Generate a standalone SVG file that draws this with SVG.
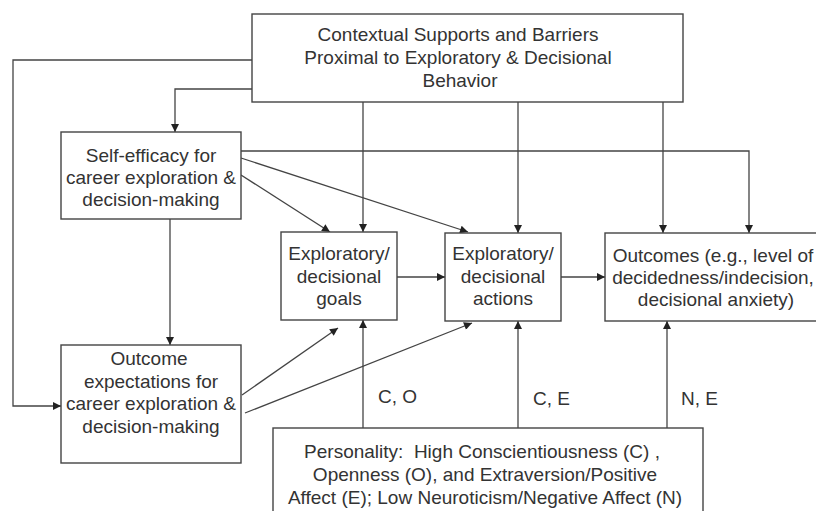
<svg xmlns="http://www.w3.org/2000/svg" width="816" height="511" viewBox="0 0 816 511">
<style>
.box{fill:#fff;stroke:#444;stroke-width:1.4}
.ln{fill:none;stroke:#444;stroke-width:1.3;marker-end:url(#ah)}
text{font-family:"Liberation Sans",Arial,sans-serif;font-size:19px;fill:#333;text-anchor:middle}
.lbl{text-anchor:start}
</style>
<defs>
<marker id="ah" viewBox="0 0 10 10" refX="10" refY="5" markerWidth="9" markerHeight="8" markerUnits="userSpaceOnUse" orient="auto">
<path d="M0,0 L10,5 L0,10 z" fill="#222"/>
</marker>
</defs>
<rect width="816" height="511" fill="#fff"/>
<g id="connectors">
<path class="ln" d="M252,60 H13 V406 H61"/>
<path class="ln" d="M252,89 H175 V132"/>
<path class="ln" d="M363,102 V232"/>
<path class="ln" d="M518,102 V233"/>
<path class="ln" d="M663,102 V233"/>
<path class="ln" d="M241,151 H749 V233"/>
<path class="ln" d="M241,175 L330,232"/>
<path class="ln" d="M241,158 L468,232"/>
<path class="ln" d="M170,219 V345"/>
<path class="ln" d="M242,395 L338,328"/>
<path class="ln" d="M245,413 L472,323"/>
<path class="ln" d="M397,277 H445"/>
<path class="ln" d="M561,277 H605"/>
<path class="ln" d="M363,428 V320"/>
<path class="ln" d="M518,428 V321"/>
<path class="ln" d="M667,428 V321"/>
<text class="lbl" x="378" y="403">C, O</text>
<text class="lbl" x="533" y="405">C, E</text>
<text class="lbl" x="681" y="405">N, E</text>
</g>
<g id="contextual">
<rect class="box" x="252" y="14" width="431" height="88"/>
<text x="458" y="41">Contextual Supports and Barriers</text>
<text x="458" y="64">Proximal to Exploratory &amp; Decisional</text>
<text x="460" y="87">Behavior</text>
</g>
<g id="self-efficacy">
<rect class="box" x="61" y="132" width="180" height="87"/>
<text x="151" y="162">Self-efficacy for</text>
<text x="151" y="184">career exploration &amp;</text>
<text x="151" y="206">decision-making</text>
</g>
<g id="outcome-expectations">
<rect class="box" x="61" y="345" width="180" height="118"/>
<text x="149" y="365">Outcome</text>
<text x="151" y="388">expectations for</text>
<text x="151" y="410">career exploration &amp;</text>
<text x="151" y="433">decision-making</text>
</g>
<g id="goals">
<rect class="box" x="281" y="232" width="116" height="88"/>
<text x="339" y="260">Exploratory/</text>
<text x="339" y="283">decisional</text>
<text x="339" y="305">goals</text>
</g>
<g id="actions">
<rect class="box" x="445" y="233" width="116" height="88"/>
<text x="503" y="260">Exploratory/</text>
<text x="503" y="283">decisional</text>
<text x="503" y="305">actions</text>
</g>
<g id="outcomes">
<rect class="box" x="605" y="233" width="222" height="88"/>
<text x="713" y="262">Outcomes (e.g., level of</text>
<text x="713" y="284">decidedness/indecision,</text>
<text x="716" y="306">decisional anxiety)</text>
</g>
<g id="personality">
<rect class="box" x="273" y="428" width="430" height="100"/>
<text x="482" y="458">Personality: &#160;High Conscientiousness (C) ,</text>
<text x="485" y="481">Openness (O), and Extraversion/Positive</text>
<text x="485" y="504">Affect (E); Low Neuroticism/Negative Affect (N)</text>
</g>
</svg>
